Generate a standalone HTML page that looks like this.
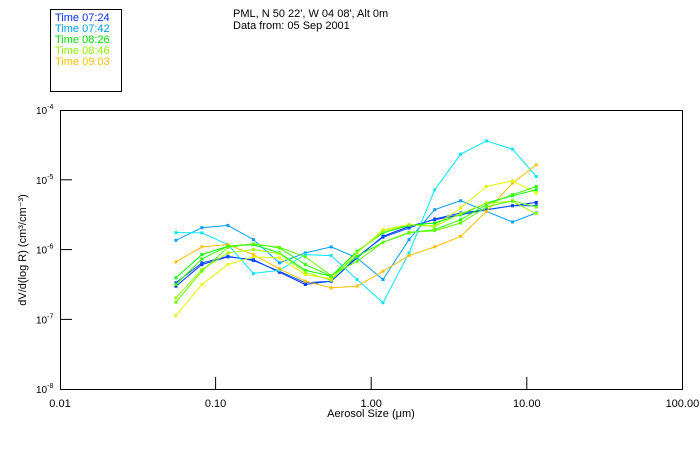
<!DOCTYPE html>
<html><head><meta charset="utf-8"><style>
body{margin:0;background:#fff;}
svg{display:block;font-family:"Liberation Sans","DejaVu Sans",sans-serif;}
</style></head><body>
<svg id="chart" width="700" height="450" viewBox="0 0 700 450" xmlns="http://www.w3.org/2000/svg">
<rect x="0" y="0" width="700" height="450" fill="#fff"/>
<g>
<rect x="50.5" y="9.5" width="71" height="82" fill="none" stroke="#000"/>
<text x="55" y="21" font-size="11" fill="#0030ff">Time 07:24</text>
<text x="55" y="32" font-size="11" fill="#00a0ff">Time 07:42</text>
<text x="55" y="43" font-size="11" fill="#00e000">Time 08:26</text>
<text x="55" y="54" font-size="11" fill="#90f000">Time 08:46</text>
<text x="55" y="65" font-size="11" fill="#ffc000">Time 09:03</text>
</g>
<text x="233" y="17" font-size="11">PML, N 50 22', W 04 08', Alt 0m</text>
<text x="233" y="29" font-size="11">Data from: 05 Sep 2001</text>
<rect x="60.5" y="110.5" width="622" height="279" fill="none" stroke="#000"/>
<g id="axes"></g>
<g id="series"></g>
<text x="371" y="417" font-size="11" text-anchor="middle">Aerosol Size (μm)</text>
<text transform="translate(26,250) rotate(-90)" font-size="11" text-anchor="middle">dV/d(log R) (cm³/cm⁻³)</text>
</svg>
<script>
const sizes = [0.0556,0.0816,0.120,0.175,0.257,0.377,0.553,0.811,1.19,1.75,2.56,3.76,5.51,8.09,11.5];
const xTicks = [0.01,0.1,1,10,100];
const xTickLabels = ["0.01","0.10","1.00","10.00","100.00"];
const yTickExps = [-4,-5,-6,-7,-8];
const seriesColors = ["#0030ff","#0050ff","#00a0ff","#00e8ff","#ffc000","#e0ff00","#00ff00","#30ff00","#a0ff00","#60ff00"];
const logA = [-6.524,-6.214,-6.104,-6.143,-6.324,-6.5,-6.453,-6.119,-5.810,-5.667,-5.571,-5.5,-5.429,-5.371,-5.324];
const logJ = [-6.476,-6.190,-6.096,-6.157,-6.310,-6.476,-6.453,-6.104,-5.824,-5.690,-5.561,-5.476,-5.429,-5.371,-5.371];
const logB = [-5.867,-5.686,-5.653,-5.857,-6.190,-6.047,-5.961,-6.119,-6.429,-5.857,-5.429,-5.3,-5.453,-5.604,-5.476];
const logC = [-5.757,-5.761,-5.929,-6.343,-6.296,-6.071,-6.086,-6.429,-6.761,-6.047,-5.143,-4.633,-4.443,-4.561,-4.953];
const logD = [-6.176,-5.961,-5.929,-6.071,-6.276,-6.453,-6.547,-6.524,-6.310,-6.086,-5.961,-5.810,-5.453,-5.047,-4.786];
const logE = [-6.943,-6.5,-6.214,-6.104,-6.119,-6.357,-6.419,-6.047,-5.714,-5.643,-5.657,-5.404,-5.096,-5.014,-5.190];
const logF = [-6.404,-6.071,-5.953,-5.929,-6.047,-6.296,-6.381,-6.024,-5.761,-5.653,-5.619,-5.5,-5.333,-5.229,-5.143];
const logG = [-6.5,-6.133,-5.953,-5.919,-5.976,-6.214,-6.381,-6.096,-5.896,-5.761,-5.714,-5.571,-5.357,-5.214,-5.096];
const logH = [-6.690,-6.286,-6.047,-6.0,-6.057,-6.324,-6.439,-6.039,-5.739,-5.643,-5.667,-5.486,-5.333,-5.310,-5.486];
const logI = [-6.753,-6.310,-5.967,-5.919,-5.967,-6.104,-6.371,-6.167,-5.896,-5.753,-5.729,-5.619,-5.390,-5.3,-5.390];
const allSeries = [logA,logJ,logB,logC,logD,logE,logF,logG,logH,logI];

const NS="http://www.w3.org/2000/svg";
const X0=60, XDEC=155.6, Y0=110, YDEC=69.8;
function xs(v){return X0+(Math.log10(v)+2)*XDEC;}
function ys(e){return Y0+(-4-e)*YDEC;}
const axes=document.getElementById('axes');
xTicks.forEach((t,i)=>{
  const x=xs(t);
  if(i>0&&i<xTicks.length-1){
    const l=document.createElementNS(NS,'line');
    l.setAttribute('x1',x);l.setAttribute('x2',x);l.setAttribute('y1',389);l.setAttribute('y2',377);l.setAttribute('stroke','#000');
    
    
    axes.appendChild(l);
  }
  const tx=document.createElementNS(NS,'text');
  tx.setAttribute('x',x);tx.setAttribute('y',407);tx.setAttribute('font-size','11');tx.setAttribute('text-anchor','middle');
  tx.textContent=xTickLabels[i];
  
  
  axes.appendChild(tx);
});
yTickExps.forEach((e,i)=>{
  const y=ys(e);
  if(i>0&&i<yTickExps.length-1){
    const l=document.createElementNS(NS,'line');
    l.setAttribute('x1',60);l.setAttribute('x2',72);l.setAttribute('y1',y);l.setAttribute('y2',y);l.setAttribute('stroke','#000');
    
    
    axes.appendChild(l);
  }
  const tx=document.createElementNS(NS,'text');
  tx.setAttribute('x',36);tx.setAttribute('y',y+4);tx.setAttribute('font-size','10');
  tx.innerHTML='10<tspan dy="-5" font-size="7">'+e+'</tspan>';
  
  
  axes.appendChild(tx);
});
const sg=document.getElementById('series');
allSeries.forEach((vals,si)=>{
  const g=document.createElementNS(NS,'g');
  
  
  const pts=vals.map((v,i)=>xs(sizes[i]).toFixed(1)+','+ys(v).toFixed(1)).join(' ');
  const pl=document.createElementNS(NS,'polyline');
  pl.setAttribute('points',pts);pl.setAttribute('fill','none');pl.setAttribute('stroke',seriesColors[si]);pl.setAttribute('stroke-width','1');
  
  
  g.appendChild(pl);
  vals.forEach((v,i)=>{
    const r=document.createElementNS(NS,'rect');
    r.setAttribute('x',xs(sizes[i])-1.5);r.setAttribute('y',ys(v)-1.5);r.setAttribute('width',3);r.setAttribute('height',3);r.setAttribute('fill',seriesColors[si]);
    
    
    g.appendChild(r);
  });
  sg.appendChild(g);
});
</script>
</body></html>
